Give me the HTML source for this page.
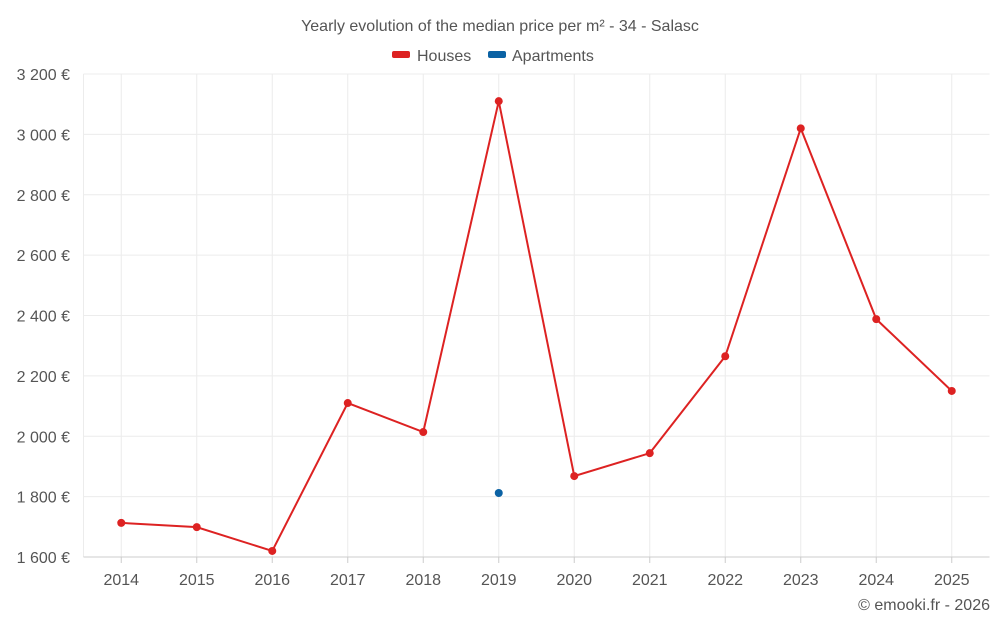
<!DOCTYPE html>
<html><head><meta charset="utf-8"><style>
body{margin:0;background:#fff;font-family:"Liberation Sans",sans-serif}
svg text{font-family:"Liberation Sans",sans-serif}
</style></head><body>
<svg id="chart" width="1000" height="625" xmlns="http://www.w3.org/2000/svg">
<text x="500" y="31" text-anchor="middle" font-size="16" fill="#555">Yearly evolution of the median price per m² - 34 - Salasc</text>
<g><rect x="392" y="51" width="18" height="7" rx="2" fill="#dd2222"/><text x="417" y="61" font-size="16" fill="#555">Houses</text></g>
<g><rect x="488" y="51" width="18" height="7" rx="2" fill="#0b62a4"/><text x="512" y="61" font-size="16" fill="#555">Apartments</text></g>
<g id="grid"></g><g id="axes"></g><g id="series"></g>
<text x="990" y="610" text-anchor="end" font-size="16" fill="#555">© emooki.fr - 2026</text>
</svg>
<script>
const years=["2014","2015","2016","2017","2018","2019","2020","2021","2022","2023","2024","2025"];
const houses=[1713,1699,1620,2110,2014,3110,1868,1944,2265,3020,2388,2150];
const apartments=[null,null,null,null,null,1812,null,null,null,null,null,null];
const yTicks=[1600,1800,2000,2200,2400,2600,2800,3000,3200];
const L=83.5,R=989.5,T=74,B=557,yMin=1600,yMax=3200;
const bw=(R-L)/years.length;
const xs=i=>L+bw*(i+0.5);
const ys=v=>B-(v-yMin)/(yMax-yMin)*(B-T);
const NS="http://www.w3.org/2000/svg";
function mk(p,t,a){const e=document.createElementNS(NS,t);for(const k in a)e.setAttribute(k,a[k]);p.appendChild(e);return e;}
const grid=document.getElementById('grid'),axes=document.getElementById('axes'),ser=document.getElementById('series');
const fmt=v=>String(v).replace(/\B(?=(\d{3})+(?!\d))/g," ")+" €";
yTicks.forEach(v=>{
 const l=mk(grid,'line',{x1:L,x2:R,y1:ys(v),y2:ys(v),stroke:'#ececec'});
 
 
 const t=mk(axes,'text',{x:70,y:ys(v)+6,'text-anchor':'end','font-size':16,fill:'#555'});t.textContent=fmt(v);
 
 
});
years.forEach((y,i)=>{
 const l=mk(grid,'line',{x1:xs(i),x2:xs(i),y1:T,y2:B,stroke:'#ececec'});
 
 
 mk(axes,'line',{x1:xs(i),x2:xs(i),y1:B,y2:B+6,stroke:'#ccc'});
 const t=mk(axes,'text',{x:xs(i),y:585,'text-anchor':'middle','font-size':16,fill:'#555'});t.textContent=y;
 
 
});
mk(grid,'line',{x1:L,x2:L,y1:T,y2:B,stroke:'#ececec'});
mk(axes,'line',{x1:L,x2:R,y1:B,y2:B,stroke:'#ccc'});
const pts=houses.map((v,i)=>xs(i)+','+ys(v)).join(' ');
const pl=mk(ser,'polyline',{points:pts,fill:'none',stroke:'#dd2222','stroke-width':2});


houses.forEach((v,i)=>{const c=mk(ser,'circle',{cx:xs(i),cy:ys(v),r:4,fill:'#dd2222'});
 
 });
apartments.forEach((v,i)=>{if(v==null)return;const c=mk(ser,'circle',{cx:xs(i),cy:ys(v),r:4,fill:'#0b62a4'});
 
 });
</script>
</body></html>
